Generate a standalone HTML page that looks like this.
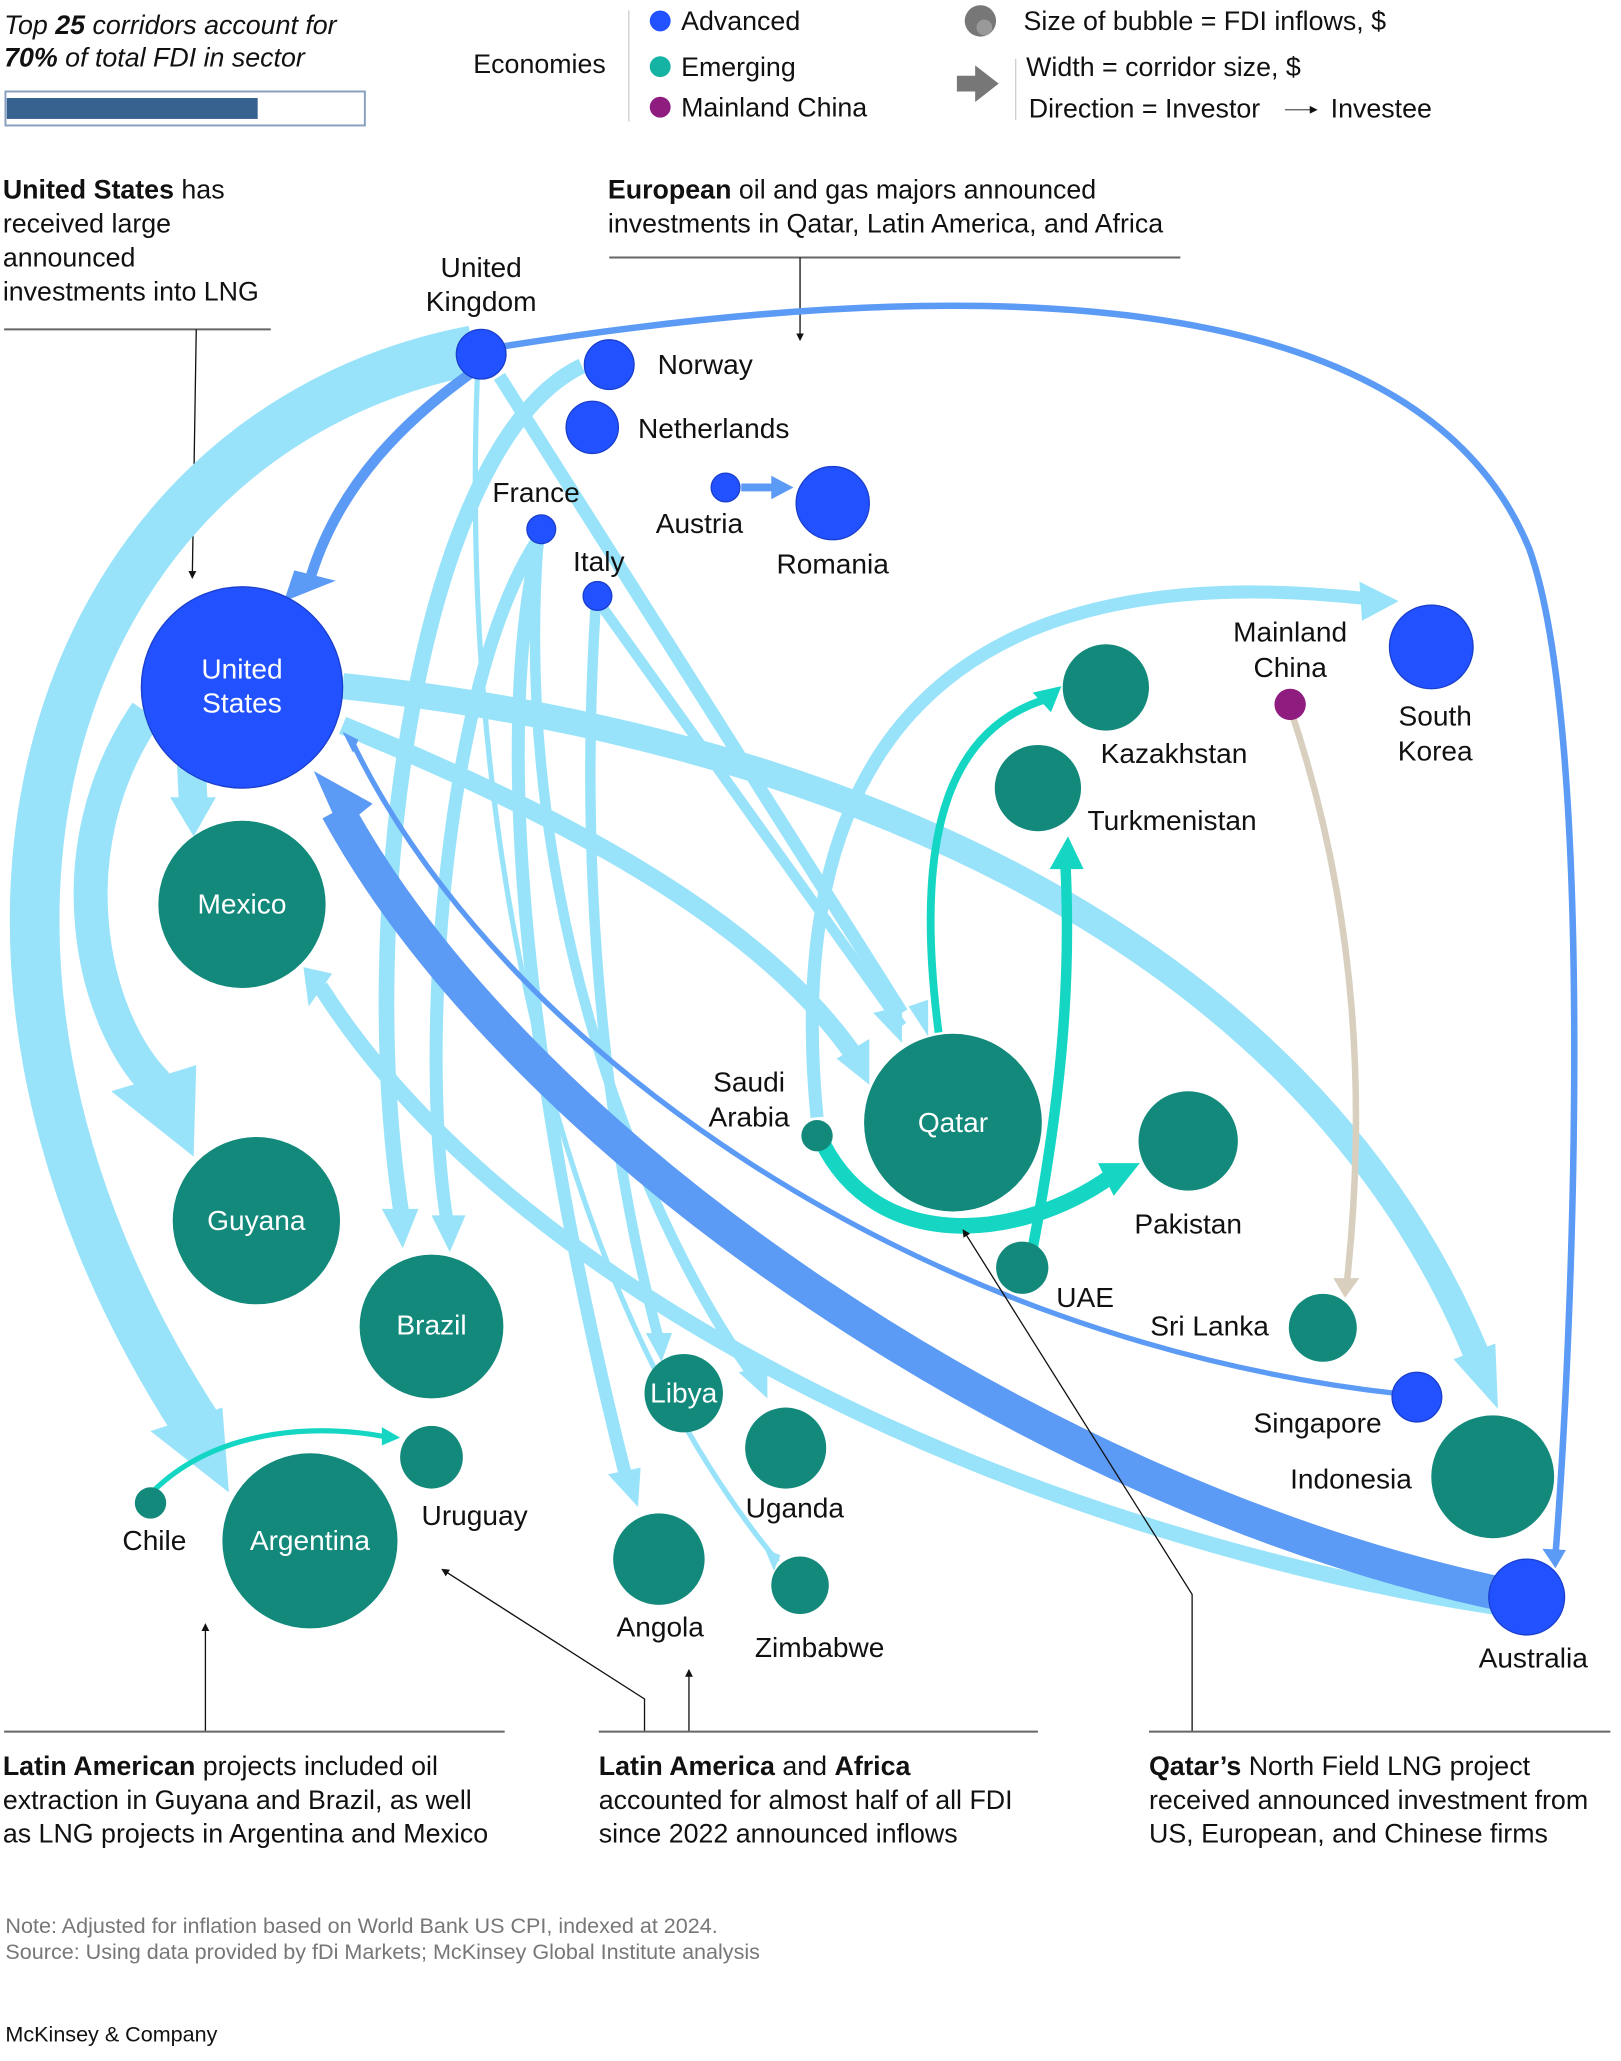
<!DOCTYPE html>
<html><head><meta charset="utf-8"><style>
html,body{margin:0;padding:0;background:#fff;}
svg{display:block;}
text{font-family:"Liberation Sans",sans-serif;fill:#111;}
</style></head><body>
<svg width="1621" height="2061" viewBox="0 0 1240 1577" xmlns="http://www.w3.org/2000/svg">
<defs>
<marker id="ah" viewBox="0 0 10 10" refX="5" refY="5" markerWidth="6" markerHeight="6" orient="auto"><path d="M0,0 L10,5 L0,10 z" fill="#111"/></marker>
</defs>
<!-- header -->
<text x="3" y="26" font-size="20.5" font-style="italic">Top <tspan font-weight="bold">25</tspan> corridors account for</text>
<text x="3" y="51" font-size="20.5" font-style="italic"><tspan font-weight="bold">70%</tspan> of total FDI in sector</text>
<rect x="4" y="70" width="275" height="26" fill="#fff" stroke="#8aa0c0" stroke-width="1.5"/>
<rect x="5" y="75" width="192" height="16" fill="#37628f"/>
<text x="362" y="56" font-size="20.5">Economies</text>
<line x1="481" y1="8" x2="481" y2="93" stroke="#ccc"/>
<circle cx="505" cy="16" r="8" fill="#2251ff"/><text x="521" y="23" font-size="20.5">Advanced</text>
<circle cx="505" cy="51" r="8" fill="#14b3a3"/><text x="521" y="58" font-size="20.5">Emerging</text>
<circle cx="505" cy="82" r="8" fill="#8f1d7f"/><text x="521" y="89" font-size="20.5">Mainland China</text>
<circle cx="750" cy="16" r="12" fill="#777"/><circle cx="753" cy="21" r="6" fill="#999"/>
<text x="783" y="23" font-size="20.5">Size of bubble = FDI inflows, $</text>
<path d="M732,58 h14 v-8 l18,14 l-18,14 v-8 h-14z" fill="#777"/>
<line x1="777" y1="45" x2="777" y2="92" stroke="#ccc"/>
<text x="785" y="58" font-size="20.5">Width = corridor size, $</text>
<text x="787" y="90" font-size="20.5">Direction = Investor</text>
<line x1="983" y1="84" x2="1005" y2="84" stroke="#555" marker-end="url(#ah)"/>
<text x="1018" y="90" font-size="20.5">Investee</text>

<!-- annotations -->
<text x="2" y="152" font-size="20.5"><tspan font-weight="bold">United States</tspan> has</text>
<text x="2" y="178" font-size="20.5">received large</text>
<text x="2" y="204" font-size="20.5">announced</text>
<text x="2" y="230" font-size="20.5">investments into LNG</text>
<line x1="3" y1="252" x2="207" y2="252" stroke="#666" stroke-width="1.5"/>
<line x1="150" y1="252" x2="147" y2="440" stroke="#111" marker-end="url(#ah)"/>
<text x="465" y="152" font-size="20.5"><tspan font-weight="bold">European</tspan> oil and gas majors announced</text>
<text x="465" y="178" font-size="20.5">investments in Qatar, Latin America, and Africa</text>
<line x1="466" y1="197" x2="903" y2="197" stroke="#666" stroke-width="1.5"/>
<line x1="612" y1="197" x2="612" y2="258" stroke="#111" marker-end="url(#ah)"/>

<!-- corridors light blue -->
<g fill="none" stroke="#99e3fa" stroke-linecap="butt">
<path d="M362,268 C40,330 -90,720 150,1090" stroke-width="38"/>
<path d="M112,545 C40,650 70,780 120,830" stroke-width="26"/>
<path d="M145,560 L148,620" stroke-width="22"/>
<path d="M262,525 C600,560 1000,700 1135,1050" stroke-width="20"/>
<path d="M262,555 C420,620 580,700 655,810" stroke-width="14"/>
<path d="M1160,1232 C800,1180 400,1000 245,755" stroke-width="12"/>
<path d="M445,280 C320,340 270,700 308,935" stroke-width="12"/>
<path d="M382,288 L690,775" stroke-width="10"/>
<path d="M412,412 C340,520 320,800 342,935" stroke-width="10"/>
<path d="M412,412 C370,600 420,900 480,1135" stroke-width="10"/>
<path d="M412,412 C390,700 500,950 578,1055" stroke-width="8"/>
<path d="M456,458 C440,700 470,900 504,1025" stroke-width="8"/>
<path d="M456,458 L690,785" stroke-width="8"/>
<path d="M365,290 C350,700 450,1020 595,1195" stroke-width="4"/>
<path d="M625,855 C600,600 700,420 1045,458" stroke-width="10"/>
</g>
<g fill="#99e3fa">
<path d="M85,835 l65,-20 l-2,70 z"/>
<path d="M115,1095 l55,-18 l5,65 z"/>
<path d="M130,610 l35,0 l-17,30 z"/>
<path d="M1112,1040 l32,-12 l2,50 z"/>
<path d="M640,810 l25,-15 l0,35 z"/>
<path d="M232,740 l22,5 l-18,25 z"/>
<path d="M292,925 l28,0 l-12,30 z"/>
<path d="M330,930 l26,0 l-12,28 z"/>
<path d="M465,1128 l25,-5 l-2,30 z"/>
<path d="M565,1050 l22,-5 l0,25 z"/>
<path d="M494,1020 l20,0 l-8,22 z"/>
<path d="M1040,445 l30,15 l-28,15 z"/>
<path d="M668,775 l22,-5 l0,28 z"/>
<path d="M695,770 l15,-5 l0,28 z"/>
<path d="M585,1185 l12,5 l-5,12 z"/>
</g>
<!-- mid blue -->
<g fill="none" stroke="#5b9af5">
<path d="M1160,1222 C800,1150 400,880 258,620" stroke-width="26"/>
<path d="M368,280 C310,320 260,370 238,440" stroke-width="8"/>
<path d="M1085,1068 C700,1030 380,800 268,565" stroke-width="4"/>
<path d="M385,265 C700,215 1080,200 1170,420 C1220,560 1205,1000 1190,1190" stroke-width="5"/>
<path d="M567,373 L592,373" stroke-width="6"/>
</g>
<path d="M240,590 l20,45 l25,-20 z" fill="#5b9af5"/>
<path d="M222,455 l25,-10 l-20,-5 z" fill="#5b9af5" stroke="#5b9af5" stroke-width="6"/>
<path d="M590,364 l17,9 l-17,9 z" fill="#5b9af5"/>
<path d="M262,560 l12,6 l-4,10 z" fill="#5b9af5"/>
<path d="M1180,1185 l10,15 l8,-14 z" fill="#5b9af5"/>
<!-- teal -->
<g fill="none" stroke="#14d6c3">
<path d="M628,872 C670,960 780,950 850,900" stroke-width="12"/>
<path d="M718,790 C700,650 720,560 800,535" stroke-width="6"/>
<path d="M790,955 C810,850 820,760 815,660" stroke-width="8"/>
<path d="M118,1140 C170,1090 250,1090 298,1100" stroke-width="4"/>
</g>
<path d="M840,890 l32,0 l-20,25 z" fill="#14d6c3"/>
<path d="M790,530 l22,-5 l-8,20 z" fill="#14d6c3"/>
<path d="M803,665 l14,-25 l12,25 z" fill="#14d6c3"/>
<path d="M292,1092 l14,8 l-14,6 z" fill="#14d6c3"/>
<path d="M988,545 C1040,700 1045,850 1030,985" fill="none" stroke="#d9cfbf" stroke-width="5"/>
<path d="M1020,978 l20,0 l-11,15 z" fill="#d9cfbf"/>

<!-- bubbles -->
<g fill="#2251ff" stroke="#1a3fcc" stroke-width="1">
<circle cx="185" cy="526" r="77"/>
<circle cx="368" cy="271" r="19"/>
<circle cx="466" cy="279" r="19"/>
<circle cx="453" cy="327" r="20"/>
<circle cx="555" cy="373" r="11"/>
<circle cx="637" cy="385" r="28"/>
<circle cx="414" cy="405" r="11"/>
<circle cx="457" cy="456" r="11"/>
<circle cx="1095" cy="495" r="32"/>
<circle cx="1084" cy="1069" r="19"/>
<circle cx="1168" cy="1222" r="29"/>
</g>
<g fill="#12897a">
<circle cx="185" cy="692" r="64"/>
<circle cx="196" cy="934" r="64"/>
<circle cx="330" cy="1015" r="55"/>
<circle cx="237" cy="1179" r="67"/>
<circle cx="330" cy="1115" r="24"/>
<circle cx="115" cy="1150" r="12"/>
<circle cx="523" cy="1066" r="30"/>
<circle cx="601" cy="1108" r="31"/>
<circle cx="504" cy="1193" r="35"/>
<circle cx="612" cy="1213" r="22"/>
<circle cx="729" cy="859" r="68"/>
<circle cx="625" cy="869" r="12"/>
<circle cx="846" cy="526" r="33"/>
<circle cx="794" cy="603" r="33"/>
<circle cx="909" cy="873" r="38"/>
<circle cx="782" cy="970" r="20"/>
<circle cx="1012" cy="1016" r="26"/>
<circle cx="1142" cy="1130" r="47"/>
</g>
<circle cx="987" cy="539" r="12" fill="#8f1d7f"/>

<!-- labels -->
<g font-size="21.5">
<text x="185" y="519" text-anchor="middle" style="fill:#fff">United</text>
<text x="185" y="545" text-anchor="middle" style="fill:#fff">States</text>
<text x="185" y="699" text-anchor="middle" style="fill:#fff">Mexico</text>
<text x="196" y="941" text-anchor="middle" style="fill:#fff">Guyana</text>
<text x="330" y="1021" text-anchor="middle" style="fill:#fff">Brazil</text>
<text x="237" y="1186" text-anchor="middle" style="fill:#fff">Argentina</text>
<text x="523" y="1073" text-anchor="middle" style="fill:#fff">Libya</text>
<text x="729" y="866" text-anchor="middle" style="fill:#fff">Qatar</text>
<text x="368" y="212" text-anchor="middle">United</text>
<text x="368" y="238" text-anchor="middle">Kingdom</text>
<text x="503" y="286">Norway</text>
<text x="488" y="335">Netherlands</text>
<text x="410" y="384" text-anchor="middle">France</text>
<text x="535" y="408" text-anchor="middle">Austria</text>
<text x="637" y="439" text-anchor="middle">Romania</text>
<text x="458" y="437" text-anchor="middle">Italy</text>
<text x="987" y="491" text-anchor="middle">Mainland</text>
<text x="987" y="518" text-anchor="middle">China</text>
<text x="1098" y="555" text-anchor="middle">South</text>
<text x="1098" y="582" text-anchor="middle">Korea</text>
<text x="842" y="584">Kazakhstan</text>
<text x="832" y="635">Turkmenistan</text>
<text x="573" y="835" text-anchor="middle">Saudi</text>
<text x="573" y="862" text-anchor="middle">Arabia</text>
<text x="909" y="944" text-anchor="middle">Pakistan</text>
<text x="808" y="1000">UAE</text>
<text x="880" y="1022">Sri Lanka</text>
<text x="959" y="1096">Singapore</text>
<text x="987" y="1139">Indonesia</text>
<text x="1173" y="1276" text-anchor="middle">Australia</text>
<text x="118" y="1186" text-anchor="middle">Chile</text>
<text x="363" y="1167" text-anchor="middle">Uruguay</text>
<text x="608" y="1161" text-anchor="middle">Uganda</text>
<text x="505" y="1252" text-anchor="middle">Angola</text>
<text x="627" y="1268" text-anchor="middle">Zimbabwe</text>
</g>

<!-- bottom annotation lines -->
<g stroke="#111" stroke-width="1" fill="none">
<line x1="157" y1="1325" x2="157" y2="1245" marker-end="url(#ah)"/>
<path d="M493,1325 V1300 L340,1202" marker-end="url(#ah)"/>
<line x1="527" y1="1325" x2="527" y2="1280" marker-end="url(#ah)"/>
<path d="M912,1325 V1220 L738,943" marker-end="url(#ah)"/>
</g>
<g stroke="#666" stroke-width="1.5">
<line x1="3" y1="1325" x2="386" y2="1325"/>
<line x1="458" y1="1325" x2="794" y2="1325"/>
<line x1="879" y1="1325" x2="1232" y2="1325"/>
</g>
<g font-size="20.5">
<text x="2" y="1358"><tspan font-weight="bold">Latin American</tspan> projects included oil</text>
<text x="2" y="1384">extraction in Guyana and Brazil, as well</text>
<text x="2" y="1410">as LNG projects in Argentina and Mexico</text>
<text x="458" y="1358"><tspan font-weight="bold">Latin America</tspan> and <tspan font-weight="bold">Africa</tspan></text>
<text x="458" y="1384">accounted for almost half of all FDI</text>
<text x="458" y="1410">since 2022 announced inflows</text>
<text x="879" y="1358"><tspan font-weight="bold">Qatar’s</tspan> North Field LNG project</text>
<text x="879" y="1384">received announced investment from</text>
<text x="879" y="1410">US, European, and Chinese firms</text>
</g>
<text x="4" y="1479" font-size="16.5" style="fill:#777">Note: Adjusted for inflation based on World Bank US CPI, indexed at 2024.</text>
<text x="4" y="1499" font-size="16.5" style="fill:#777">Source: Using data provided by fDi Markets; McKinsey Global Institute analysis</text>
<text x="4" y="1562" font-size="16.5">McKinsey &amp; Company</text>
</svg>
</body></html>
